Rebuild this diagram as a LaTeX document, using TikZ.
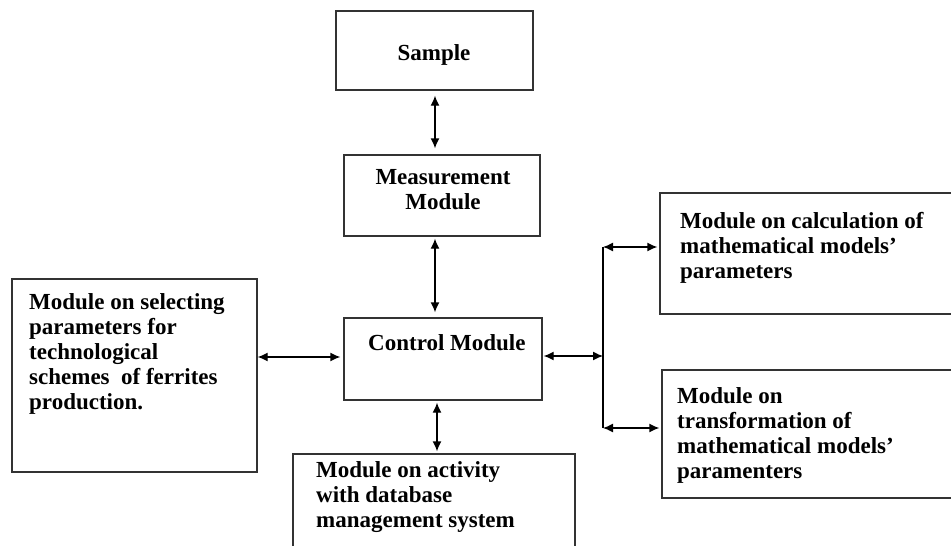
\documentclass[tikz,border=0pt]{standalone}
\usepackage{fontspec}
\setmainfont{Liberation Serif}
\usetikzlibrary{arrows.meta}
\begin{document}
\begin{tikzpicture}[x=1pt,y=-1pt,
  box/.style={draw=black!80, line width=1.3pt, inner sep=0pt},
  txt/.style={inner sep=0pt, align=left, font=\fontsize{23}{25}\selectfont\bfseries, text=black},
  ctxt/.style={inner sep=0pt, align=center, font=\fontsize{23}{25}\selectfont\bfseries, text=black},
  arr/.style={draw=black, line width=1.3pt, {Latex[length=10pt,width=9pt]}-{Latex[length=10pt,width=9pt]}},
  plain/.style={draw=black, line width=1.3pt}]
\clip (0,0) rectangle (951,546);
\fill[white] (0,0) rectangle (951,546);
% boxes
\node[box, minimum width=197pt, minimum height=79pt] (sample) at (434.5,50.5) {};
\node[box, minimum width=196pt, minimum height=81pt] (meas) at (442,195.5) {};
\node[box, minimum width=198pt, minimum height=82pt] (ctrl) at (443,359) {};
\node[box, minimum width=245pt, minimum height=193pt] (left) at (134.5,375.5) {};
\node[box, minimum width=282pt, minimum height=146pt] (db) at (434,527) {};
\node[box, minimum width=340pt, minimum height=121pt] (calc) at (830,253.5) {};
\node[box, minimum width=338pt, minimum height=128pt] (trans) at (831,434) {};
% texts (base anchor = baseline of the last line)
\node[ctxt, anchor=base] (tsample) at (434,60) {Sample};
\node[ctxt, anchor=base] (tmeas) at (443,209) {Measurement\\Module};
\node[txt, anchor=base west] (tctrl) at (368,350) {Control Module};
\node[txt, anchor=base west] (tleft) at (29,409) {Module on selecting\\parameters for\\technological\\schemes~ of ferrites\\production.};
\node[txt, anchor=base west] (tdb) at (316,527) {Module on activity\\with database\\management system};
\node[txt, anchor=base west] (tcalc) at (680,278) {Module on calculation of\\mathematical models'\\parameters};
\node[txt, anchor=base west] (ttrans) at (677,478) {Module on\\transformation of\\mathematical models'\\paramenters};
% junction
\coordinate (j1) at (603,247);
\coordinate (jm) at (603,356);
\coordinate (j2) at (603,428);
% connectors
\draw[arr, shorten <=5pt, shorten >=6pt] (sample.south -| 435,0) -- (meas.north -| 435,0);
\draw[arr, shorten <=2pt, shorten >=5pt] (meas.south -| 435,0) -- (ctrl.north -| 435,0);
\draw[arr, shorten <=2pt, shorten >=2pt] (ctrl.south -| 437,0) -- (db.north -| 437,0);
\draw[arr, shorten >=3pt] (left.east |- 0,357) -- (ctrl.west |- 0,357);
\draw[arr, shorten <=1pt] (ctrl.east |- jm) -- (jm);
\draw[plain] (j1) -- (j2);
\draw[arr, shorten >=2pt] (j1) -- (calc.west |- j1);
\draw[arr, shorten >=2pt] (j2) -- (trans.west |- j2);
\end{tikzpicture}
\end{document}
